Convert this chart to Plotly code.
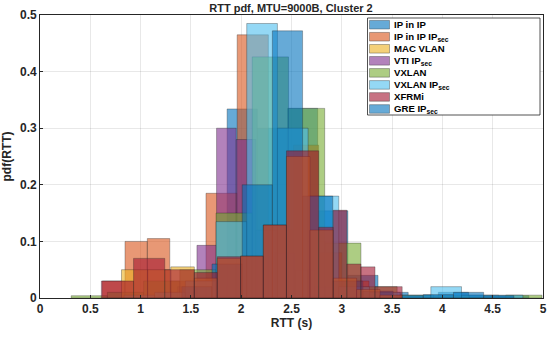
import plotly.graph_objects as go

# ---- data: per-series bin edges (s) and pdf values ----
names = ["IP in IP", "IP in IP IP<sub>sec</sub>", "MAC VLAN", "VTI IP<sub>sec</sub>",
         "VXLAN", "VXLAN IP<sub>sec</sub>", "XFRMi", "GRE IP<sub>sec</sub>"]

ipip_edges = [1.26, 1.56, 1.86, 2.16, 2.46, 2.76, 3.06, 3.36, 3.66, 3.96, 4.26, 4.56, 4.86]
ipip_vals = [0.01, 0.02, 0.334, 0.30, 0.335, 0.154, 0.04, 0.01, 0.004, 0.01, 0.005, 0.004]

ipipsec_edges = [0.62, 0.845, 1.067, 1.29, 1.65, 1.96, 2.27, 2.52, 2.77, 3.0, 3.27, 3.5]
ipipsec_vals = [0.03, 0.10, 0.105, 0.03, 0.185, 0.465, 0.12, 0.27, 0.08, 0.03, 0.01]

macvlan_edges = [0.81, 1.07, 1.30, 1.534, 1.762, 1.994, 2.22, 2.45, 2.684, 2.915, 3.147, 3.38, 3.6]
macvlan_vals = [0.05, 0.05, 0.055, 0.035, 0.07, 0.074, 0.129, 0.25, 0.12, 0.035, 0.015, 0.005]

vti_edges = [1.17, 1.365, 1.56, 1.755, 1.95, 2.145, 2.34, 2.535, 2.73, 2.925]
vti_vals = [0.01, 0.02, 0.093, 0.30, 0.28, 0.12, 0.08, 0.05, 0.02]

vxlan_edges = [0.31, 0.67, 1.03, 1.39, 1.75, 2.11, 2.47, 2.83, 3.19, 3.55, 3.91, 4.27, 4.63, 4.99]
vxlan_vals = [0.004, 0.01, 0.03, 0.05, 0.15, 0.426, 0.335, 0.097, 0.02, 0.005, 0.004, 0.002, 0.005]

vxlansec_edges = [0.835, 1.14, 1.445, 1.75, 2.055, 2.36, 2.665, 2.97, 3.275, 3.58, 3.885, 4.19, 4.495, 4.8]
vxlansec_vals = [0.005, 0.01, 0.03, 0.135, 0.485, 0.30, 0.18, 0.02, 0.01, 0.005, 0.02, 0.005, 0.005]

xfrmi_edges = [0.61, 0.93, 1.24, 1.534, 1.762, 1.994, 2.22, 2.45, 2.77, 2.915, 3.05, 3.19, 3.33, 3.6]
xfrmi_vals = [0.03, 0.07, 0.05, 0.045, 0.073, 0.074, 0.129, 0.26, 0.125, 0.155, 0.06, 0.055, 0.02]

gre_edges = [1.41, 1.71, 2.01, 2.31, 2.61, 2.91, 3.21, 3.51, 3.81, 4.11, 4.41, 4.71]
gre_vals = [0.02, 0.06, 0.20, 0.472, 0.18, 0.03, 0.012, 0.004, 0.006, 0.01, 0.004]

x_ticks = [0, 0.5, 1, 1.5, 2, 2.5, 3, 3.5, 4, 4.5, 5]
y_ticks = [0, 0.1, 0.2, 0.3, 0.4, 0.5]

series = {
    "IP in IP": (ipip_edges, ipip_vals, (0, 114, 189)),
    "IP in IP IP<sub>sec</sub>": (ipipsec_edges, ipipsec_vals, (217, 83, 25)),
    "MAC VLAN": (macvlan_edges, macvlan_vals, (237, 177, 32)),
    "VTI IP<sub>sec</sub>": (vti_edges, vti_vals, (126, 47, 142)),
    "VXLAN": (vxlan_edges, vxlan_vals, (119, 172, 48)),
    "VXLAN IP<sub>sec</sub>": (vxlansec_edges, vxlansec_vals, (77, 190, 238)),
    "XFRMi": (xfrmi_edges, xfrmi_vals, (162, 20, 47)),
    "GRE IP<sub>sec</sub>": (gre_edges, gre_vals, (0, 114, 189)),
}
# drawing order (bottom -> top)
draw_order = ["IP in IP", "IP in IP IP<sub>sec</sub>", "VTI IP<sub>sec</sub>", "VXLAN",
              "VXLAN IP<sub>sec</sub>", "GRE IP<sub>sec</sub>", "MAC VLAN", "XFRMi"]

fig = go.Figure()
for name in draw_order:
    edges, vals, c = series[name]
    centers = [(a + b) / 2 for a, b in zip(edges[:-1], edges[1:])]
    widths = [b - a for a, b in zip(edges[:-1], edges[1:])]
    fig.add_trace(go.Bar(
        x=centers, y=vals, width=widths, name=name, showlegend=False,
        marker=dict(color="rgba(%d,%d,%d,0.6)" % c,
                    line=dict(color="rgba(38,38,38,0.55)", width=0.6)),
    ))

font = "Liberation Sans, Arial, sans-serif"
dark = "#262626"

W, H = 550, 339
# plot area in pixels: x 40..543, y 15..298
L, R, T, B = 40, 543, 15, 298
def px(xp):
    return (xp - L) / (R - L)
def py(yp):
    return (B - yp) / (B - T)

shapes = []
annotations = []
# manual legend (MATLAB style)
shapes.append(dict(type="rect", xref="paper", yref="paper",
                   x0=px(367.5), x1=px(540), y0=py(115), y1=py(18),
                   fillcolor="white", line=dict(color=dark, width=0.8), layer="above"))
for i, name in enumerate(names):
    edges, vals, c = series[name]
    yc = 24.7 + 12.04 * i
    shapes.append(dict(type="rect", xref="paper", yref="paper",
                       x0=px(369.5), x1=px(389.5), y0=py(yc + 4.3), y1=py(yc - 4.3),
                       fillcolor="rgba(%d,%d,%d,0.6)" % c,
                       line=dict(color="rgba(38,38,38,0.6)", width=0.6), layer="above"))
    annotations.append(dict(xref="paper", yref="paper", x=px(391.5), y=py(yc),
                            xanchor="left", yanchor="middle", showarrow=False,
                            text="<b>%s</b>" % name,
                            font=dict(family=font, size=9.6, color="#000")))

axis_common = dict(showline=True, linecolor=dark, linewidth=0.8, mirror=True,
                   showgrid=True, gridcolor="rgba(0,0,0,0.09)", gridwidth=0.8,
                   ticks="inside", ticklen=3, tickcolor=dark, zeroline=False,
                   automargin=False,
                   tickfont=dict(family=font, size=12, color=dark))

fig.update_layout(
    width=W, height=H,
    margin=dict(l=L, r=W - R, t=T, b=H - B, autoexpand=False),
    paper_bgcolor="white", plot_bgcolor="white",
    barmode="overlay", showlegend=False,
    title=dict(text="<b>RTT pdf, MTU=9000B, Cluster 2</b>", x=px(291), xref="paper",
               xanchor="center", y=1 - 8.5 / H, yanchor="middle",
               font=dict(family=font, size=11, color=dark)),
    xaxis=dict(range=[0, 5], tickvals=x_ticks, ticktext=["<b>%g</b>" % v for v in x_ticks],
               title=dict(text="<b>RTT (s)</b>", font=dict(family=font, size=12, color=dark), standoff=3),
               **axis_common),
    yaxis=dict(range=[0, 0.5], tickvals=y_ticks, ticktext=["<b>%g</b>" % v for v in y_ticks],
               title=dict(text="<b>pdf(RTT)</b>", font=dict(family=font, size=12, color=dark), standoff=5),
               **axis_common),
    shapes=shapes, annotations=annotations,
    font=dict(family=font, color=dark),
)

fig.write_html("out.html", config={"displayModeBar": False},
               post_script="document.body.style.margin='0px';")
